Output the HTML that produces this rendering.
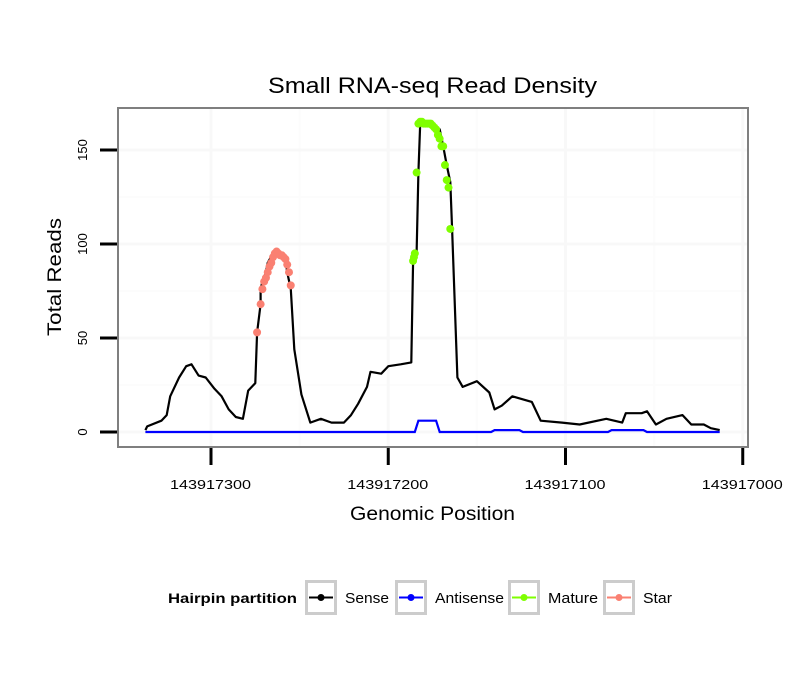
<!DOCTYPE html>
<html><head><meta charset="utf-8"><style>
body{margin:0;background:#fff;}
svg text{font-family:"Liberation Sans",sans-serif;}
</style></head><body>
<svg id="chart" width="810" height="690" xmlns="http://www.w3.org/2000/svg">
<rect width="810" height="690" fill="#fff"/>
<text x="268" y="93" font-size="22" textLength="329" lengthAdjust="spacingAndGlyphs">Small RNA-seq Read Density</text>
<g id="grid"></g>
<g id="series"></g>
<rect x="118" y="108" width="630" height="339" fill="none" stroke="#7f7f7f" stroke-width="2"/>
<g id="axes"></g>
<text x="350" y="520" font-size="19" textLength="165" lengthAdjust="spacingAndGlyphs">Genomic Position</text>
<text transform="translate(61,336) rotate(-90)" font-size="19" textLength="118" lengthAdjust="spacingAndGlyphs">Total Reads</text>
<g>
<text x="168" y="603" font-size="14" font-weight="bold" textLength="129" lengthAdjust="spacingAndGlyphs">Hairpin partition</text>
<g id="legend"></g>
</g>
</svg>
<script>
const base = 143917000;
const senseOff = [337,336,328,325,323,318,314,311,307,303,298,294,290,286,282,279,275,274,272,272,271,269,268,265,261,258,257,255,253,249,244,238,232,225,221,217,212,210,204,200,193,187,186,185,184,183,182,175,171,169,167,165,164,161,158,150,143,140,136,130,119,114,102,92,77,68,66,57,54,49,43,34,29,22,18,13];
const senseVal = [1,3,6,9,19,29,35,36,30,29,23,19,12,8,7,22,26,53,68,76,80,85,90,95,94,92,85,76,44,20,5,7,5,5,9,15,24,32,31,35,36,37,91,91,95,138,164,163,161,152,142,133,108,29,24,27,21,12,14,19,16,6,5,4,7,5,10,10,11,4,7,9,4,4,2,1];
const antiOff = [337,185,183,173,171,142,140,126,124,76,74,56,54,13];
const antiVal = [0,0,6,6,0,0,1,1,0,0,1,1,0,0];
const starOff = [274,272,271,270,269,268,267,266,265,264,263,262,261,260,259,258,257,256,255];
const starVal = [53,68,76,80,82,85,88,90,93,95,96,95,94,94,93,92,89,85,78];
const matureOff = [186,185.5,185,184,183,182,181,180,179,178,177,176,175,174,173,172,171,170,169,168,167,166,165];
const matureVal = [91,93,95,138,164,165,165,164,164,164,164,164,163,162,161,158,156,152,152,142,134,130,108];
const yTicks = [0,50,100,150];
const xTicks = [300,200,100,0];
const xTickLabels = ["143917300","143917200","143917100","143917000"];

const X = o => 211 + (300 - o) * 1.7725;
const Y = v => 432 - v * 1.88;
const NS = "http://www.w3.org/2000/svg";
function mk(tag, attrs, parent){const e=document.createElementNS(NS,tag);for(const k in attrs)e.setAttribute(k,attrs[k]);parent.appendChild(e);return e;}
const grid=document.getElementById('grid'), series=document.getElementById('series'), axes=document.getElementById('axes');
mk('rect',{x:118,y:108,width:630,height:339,fill:'#fff'},grid);
[25,75,125].forEach(v=>{const l=mk('line',{x1:118,x2:748,y1:Y(v),y2:Y(v),stroke:'#fcfcfc','stroke-width':2},grid);

});
[250,150,50].forEach(o=>{const l=mk('line',{x1:X(o),x2:X(o),y1:108,y2:447,stroke:'#fcfcfc','stroke-width':2},grid);

});
yTicks.forEach(v=>{const l=mk('line',{x1:118,x2:748,y1:Y(v),y2:Y(v),stroke:'#f8f8f8','stroke-width':3},grid);


const t=mk('line',{x1:100,x2:117,y1:Y(v),y2:Y(v),stroke:'#000','stroke-width':3},axes);


const tx=mk('text',{transform:`translate(87,${Y(v)}) rotate(-90)`,'font-size':13,'text-anchor':'middle'},axes);
tx.textContent=v;

});
xTicks.forEach((o,i)=>{const l=mk('line',{x1:X(o),x2:X(o),y1:108,y2:447,stroke:'#f8f8f8','stroke-width':3},grid);


const t=mk('line',{x1:X(o),x2:X(o),y1:448,y2:465,stroke:'#000','stroke-width':3},axes);


const tx=mk('text',{x:X(o)-41,y:489,'font-size':13,textLength:81,lengthAdjust:'spacingAndGlyphs'},axes);
tx.textContent=xTickLabels[i];

});
function pts(off,val){return off.map((o,i)=>X(o).toFixed(1)+','+Y(val[i]).toFixed(1)).join(' ');}
const s=mk('polyline',{points:pts(senseOff,senseVal),fill:'none',stroke:'#000','stroke-width':2.2,'stroke-linejoin':'round'},series);


const a=mk('polyline',{points:pts(antiOff,antiVal),fill:'none',stroke:'#0000ff','stroke-width':2.2},series);


starOff.forEach((o,i)=>{const c=mk('circle',{cx:X(o),cy:Y(starVal[i]),r:4,fill:'#fa8072'},series);

});
matureOff.forEach((o,i)=>{const c=mk('circle',{cx:X(o),cy:Y(matureVal[i]),r:4,fill:'#7fff00'},series);

});
const leg=document.getElementById('legend');
const legNames=['Sense','Antisense','Mature','Star'];
const legColors=['#000','#0000ff','#7fff00','#fa8072'];
const legX=[305,395,508,603];
const legW=[44,69,50,29];
legNames.forEach((n,i)=>{const g=mk('g',{},leg);


mk('rect',{x:legX[i]+1.5,y:581.5,width:29,height:32,fill:'#fff',stroke:'#cccccc','stroke-width':3},g);
mk('line',{x1:legX[i]+4,x2:legX[i]+28,y1:597.5,y2:597.5,stroke:legColors[i],'stroke-width':2},g);
mk('circle',{cx:legX[i]+16,cy:597.5,r:3.5,fill:legColors[i]},g);
const t=mk('text',{x:legX[i]+40,y:603,'font-size':15,textLength:legW[i],lengthAdjust:'spacingAndGlyphs'},g);t.textContent=n;});
</script>
</body></html>
